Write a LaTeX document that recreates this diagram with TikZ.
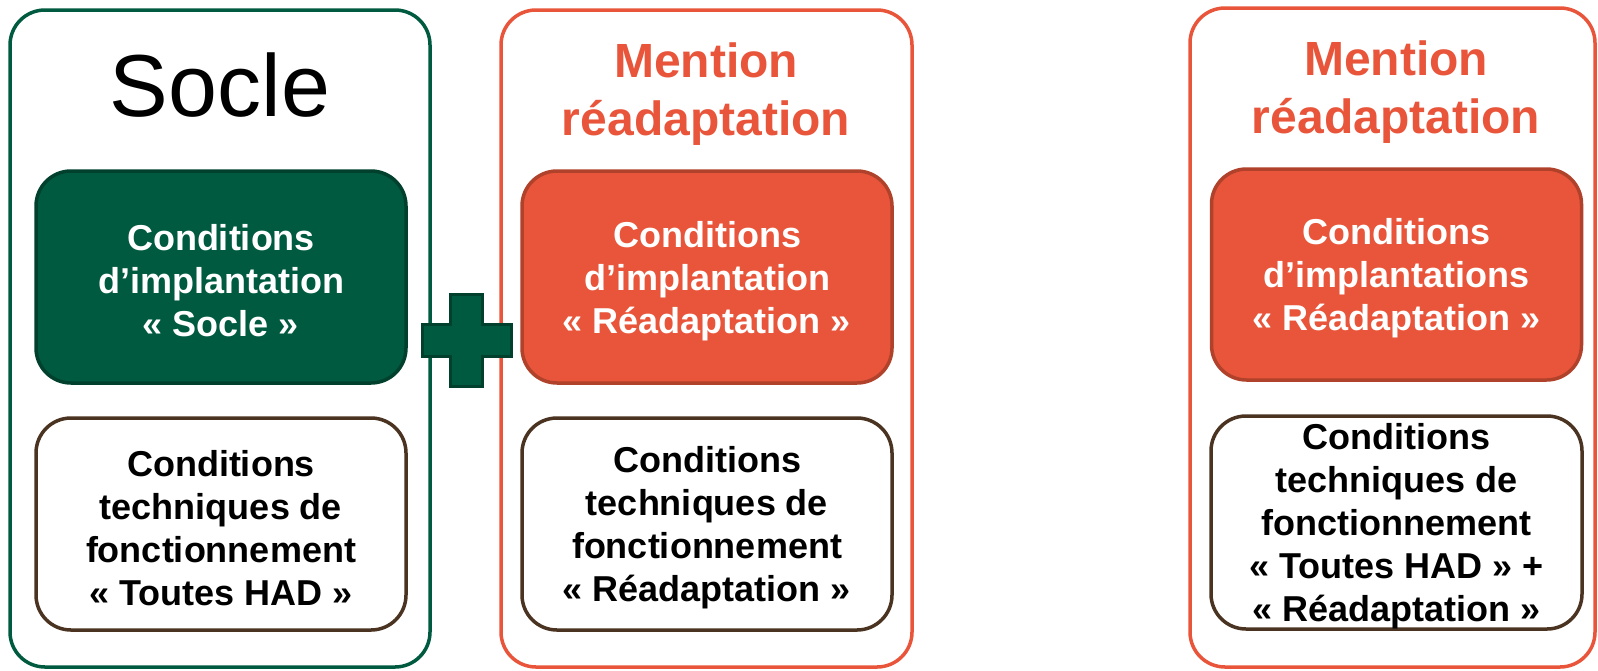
\documentclass[tikz,border=0pt]{standalone}
\usepackage{fontspec}
\setmainfont{Liberation Sans}

\definecolor{socle}{HTML}{005A40}
\definecolor{socleback}{HTML}{00402D}
\definecolor{mention}{HTML}{E8553A}
\definecolor{mentionback}{HTML}{B0412A}
\definecolor{technique}{HTML}{4B3321}

\begin{document}
\begin{tikzpicture}[x=1pt, y=-1pt,
    outerbox/.style={draw=#1, line width=3.5pt, rounded corners=35pt, inner sep=0pt},
    innerbox/.style={line width=3.5pt, rounded corners=35pt, inner sep=0pt,
        minimum width=370pt, minimum height=212pt},
    innertext/.style={align=center, inner sep=0pt, yshift=-4pt,
        font=\bfseries\fontsize{36}{43}\selectfont},
    title/.style={align=center, font=\bfseries\fontsize{48}{58}\selectfont, text=mention}]
            \useasboundingbox (0,0) rectangle (1598,670);

            % Outer frames
            \node[outerbox=socle, minimum width=420pt, minimum height=657pt] (socleframe) at (220,338.5) {};
            \node[outerbox=mention, minimum width=411pt, minimum height=657pt] (mentionframe) at (706.5,338.5) {};
            \node[outerbox=mention, minimum width=405pt, minimum height=659pt] (mentionframe2) at (1392.5,337.5) {};

            % Titles
            \node[font=\fontsize{88}{100}\selectfont] (socletitle) at (220,85) {Socle};
            \node[title] (mentiontitle) at (706,94) {Mention\\réadaptation};
            \node[title] (mentiontitle2) at (1396,92) {Mention\\réadaptation};

            % Conditions d'implantation
            \node[innerbox, draw=socleback, fill=socle] (soclecond) at (221,277) {};
            \node[innerbox, draw=mentionback, fill=mention] (mentioncond) at (707,277) {};
            \node[innerbox, draw=mentionback, fill=mention, minimum height=211pt] (mentioncond2) at (1396.5,274.5) {};
            \node[innertext, text=white] (socleimpl) at (soclecond) {Conditions\\d’implantation\\« Socle »};
            \node[innertext, text=white] (mentionimpl) at (mentioncond) {Conditions\\d’implantation\\« Réadaptation »};
            \node[innertext, text=white] (mentionimpl2) at (mentioncond2) {Conditions\\d’implantations\\« Réadaptation »};

            % Conditions techniques
            \node[innerbox, draw=technique, fill=white] (socletech) at (221,524) {};
            \node[innerbox, draw=technique, fill=white] (mentiontech) at (707,524) {};
            \node[innerbox, draw=technique, fill=white, minimum width=371pt, minimum height=213pt] (mentiontech2) at (1396.5,522.5) {};
            \node[innertext] (soclefonct) at (socletech) {Conditions\\techniques de\\fonctionnement\\« Toutes HAD »};
            \node[innertext] (mentionfonct) at (mentiontech) {Conditions\\techniques de\\fonctionnement\\« Réadaptation »};
            \node[innertext] (mentionfonct2) at (mentiontech2) {Conditions\\techniques de\\fonctionnement\\« Toutes HAD » +\\« Réadaptation »};

            % Plus sign
            \draw[socleback, fill=socle, line width=3pt]
                (450,294) -- (482,294) -- (482,324) -- (511,324) -- (511,356) -- (482,356)
                -- (482,386) -- (450,386) -- (450,356) -- (422,356) -- (422,324) -- (450,324) -- cycle;

        \end{tikzpicture}
\end{document}
